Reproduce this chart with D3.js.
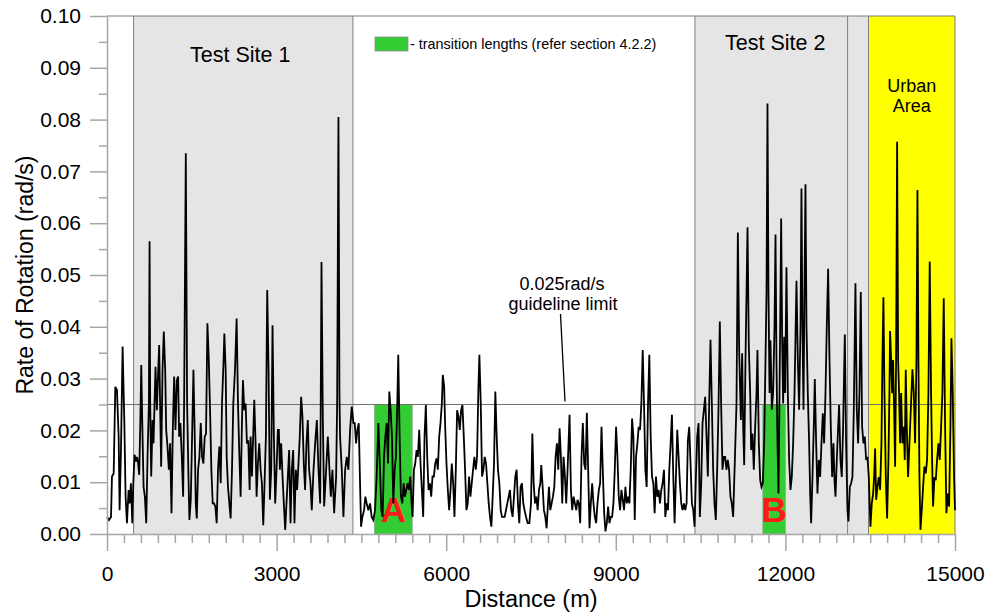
<!DOCTYPE html>
<html><head><meta charset="utf-8">
<script src="https://cdn.jsdelivr.net/npm/d3@7"></script>
<style>
body{margin:0;background:#fff}
svg{display:block}
text{font-family:"Liberation Sans",Arial,Helvetica,sans-serif}
</style>
</head><body>
<svg id="chart" width="989" height="614"></svg>
<script>
// ---------- data ----------
const xMajorTicks = [0, 3000, 6000, 9000, 12000, 15000];
const yMajorTicks = [0, 0.01, 0.02, 0.03, 0.04, 0.05, 0.06, 0.07, 0.08, 0.09, 0.10];
const guidelineLimit = 0.025;
const testSites = [
  {label: "Test Site 1", start: 470, end: 4350},
  {label: "Test Site 2", start: 10400, end: 13100}
];
const grayExtension = {start: 13100, end: 13470};
const urbanArea = {label: ["Urban", "Area"], start: 13470, end: 15000};
const transitions = [
  {label: "A", start: 4730, end: 5400},
  {label: "B", start: 11600, end: 12000}
];
// [distance (m), rate of rotation (rad/s)]
const rotationSeries = [
[0,.0033],[35,.0027],[71,.0033],[88,.0111],[118,.0117],[147,.0284],[176,.0278],[206,.0188],[223,.0046],[247,.0162],
[276,.0362],[306,.022],[329,.0072],[353,.0021],[382,.0085],[400,.0059],[423,.0098],[447,.0021],[465,.0098],[488,.0153],
[512,.014],[529,.0149],[547,.014],[570,.0114],[588,.0207],[606,.0326],[623,.022],[647,.0091],[670,.0072],[694,.0021],
[717,.0149],[741,.0252],[753,.0565],[764,.0252],[782,.0111],[806,.022],[823,.0175],[841,.0252],[858,.0323],[882,.0239],
[906,.0317],[923,.0365],[941,.0239],[958,.013],[982,.0317],[1005,.0391],[1029,.0317],[1047,.0201],[1070,.0169],[1094,.0124],
[1117,.0175],[1141,.004],[1164,.0201],[1188,.0304],[1211,.0201],[1235,.0297],[1258,.0304],[1276,.0188],[1299,.0214],[1323,.0149],
[1347,.0072],[1364,.0252],[1394,.0735],[1417,.0252],[1441,.0111],[1458,.0027],[1482,.0066],[1505,.0188],[1529,.0317],[1552,.0188],
[1570,.0059],[1588,.003],[1611,.0124],[1635,.0149],[1658,.0214],[1682,.0149],[1705,.0136],[1729,.0188],[1752,.0194],[1776,.0407],
[1799,.0342],[1823,.0239],[1846,.0124],[1870,.0059],[1893,.0059],[1917,.0053],[1940,.0021],[1964,.0124],[1987,.0169],[2011,.0098],
[2034,.0252],[2058,.0323],[2076,.0387],[2099,.0317],[2117,.0149],[2140,.0091],[2164,.0059],[2187,.003],[2211,.0124],[2234,.0252],
[2264,.0317],[2293,.0416],[2317,.0252],[2340,.0156],[2364,.0072],[2387,.0214],[2405,.0297],[2428,.0239],[2452,.0252],[2475,.0175],
[2499,.0181],[2523,.0085],[2540,.0188],[2564,.0111],[2587,.0194],[2605,.0259],[2628,.0175],[2646,.0072],[2670,.0136],[2693,.0175],
[2717,.0124],[2740,.0098],[2764,.0017],[2787,.0098],[2811,.0188],[2834,.0471],[2858,.0317],[2881,.0066],[2905,.0124],[2928,.0403],
[2952,.0188],[2975,.0059],[2999,.0124],[3022,.0201],[3040,.0201],[3058,.0124],[3081,.0175],[3105,.0111],[3128,.0059],[3152,.0008],
[3175,.0059],[3199,.0111],[3222,.0162],[3246,.0021],[3269,.0124],[3293,.0162],[3316,.0021],[3340,.0124],[3363,.0085],[3387,.0136],
[3410,.0188],[3434,.0265],[3457,.0227],[3481,.0136],[3504,.0085],[3528,.0175],[3552,.022],[3575,.0124],[3599,.0098],[3622,.0046],
[3653,.0124],[3682,.0175],[3712,.022],[3741,.0124],[3771,.0059],[3794,.0525],[3818,.022],[3841,.0053],[3876,.0124],[3906,.0188],
[3935,.0124],[3959,.0072],[3988,.0124],[4018,.004],[4053,.0111],[4071,.0252],[4094,.0805],[4112,.0265],[4123,.0188],[4153,.0124],
[4182,.0033],[4212,.0124],[4241,.0149],[4270,.0124],[4300,.0201],[4329,.0246],[4359,.0214],[4382,.0214],[4406,.0175],[4429,.0201],
[4453,.0214],[4476,.0098],[4494,.0014],[4517,.0033],[4547,.0046],[4570,.0072],[4594,.0059],[4623,.0046],[4653,.0059],[4682,.0033],
[4711,.0027],[4741,.0046],[4770,.0111],[4800,.0214],[4829,.0124],[4853,.0046],[4876,.0033],[4900,.0149],[4923,.0188],[4947,.0214],
[4970,.0136],[4994,.0275],[5017,.0239],[5041,.0188],[5064,.0059],[5088,.0124],[5111,.0149],[5135,.0252],[5152,.0346],[5176,.0188],
[5199,.0072],[5223,.0059],[5247,.0098],[5270,.0072],[5294,.0085],[5317,.0098],[5341,.0085],[5364,.0111],[5388,.0059],[5405,.0033],
[5429,.0124],[5452,.0136],[5476,.0162],[5499,.0149],[5523,.0201],[5546,.0136],[5570,.0085],[5593,.0033],[5617,.0188],[5640,.0249],
[5664,.0149],[5688,.0085],[5711,.0098],[5735,.0072],[5758,.0111],[5782,.0111],[5805,.0136],[5829,.0146],[5852,.0124],[5876,.0188],
[5899,.0214],[5923,.0252],[5940,.0307],[5964,.0284],[5982,.0207],[6005,.0136],[6029,.0085],[6052,.0046],[6076,.0085],[6099,.0136],
[6123,.0098],[6146,.0033],[6170,.0124],[6193,.0239],[6217,.0227],[6240,.0201],[6264,.0239],[6287,.0249],[6311,.0188],[6334,.0124],
[6358,.0046],[6381,.0059],[6405,.0111],[6428,.0072],[6452,.0098],[6475,.0124],[6499,.0149],[6523,.0124],[6546,.0149],[6570,.0284],
[6587,.0346],[6611,.0252],[6634,.0111],[6658,.0124],[6681,.0149],[6705,.0136],[6728,.0098],[6752,.0059],[6775,.0033],[6799,.0014],
[6822,.0072],[6846,.0136],[6869,.0275],[6893,.0188],[6916,.0124],[6940,.0098],[6964,.0046],[6987,.0033],[7034,.0033],[7081,.0059],
[7105,.0072],[7128,.0085],[7152,.0046],[7175,.0033],[7199,.0072],[7222,.0111],[7246,.0124],[7269,.0059],[7293,.0021],[7316,.0091],
[7340,.0098],[7363,.0059],[7388,.0045],[7412,.0033],[7441,.0021],[7471,.0021],[7500,.0059],[7524,.0194],[7547,.0098],[7571,.0059],
[7594,.0072],[7618,.0046],[7641,.0085],[7665,.0098],[7682,.0133],[7706,.0091],[7729,.0046],[7753,.0033],[7776,.0011],[7800,.0059],
[7818,.0091],[7841,.0046],[7865,.0059],[7888,.0072],[7912,.0091],[7935,.0149],[7959,.0175],[7982,.0124],[8006,.0204],[8029,.0149],
[8053,.0059],[8076,.0149],[8100,.0111],[8123,.0059],[8147,.0124],[8164,.0175],[8182,.023],[8206,.0085],[8229,.0046],[8253,.0072],
[8276,.0059],[8300,.0046],[8323,.0066],[8347,.0059],[8370,.0021],[8394,.0149],[8417,.0214],[8441,.0136],[8464,.0124],[8488,.0234],
[8511,.0124],[8535,.0011],[8558,.0059],[8582,.0098],[8605,.0059],[8629,.0033],[8652,.0021],[8676,.0059],[8700,.0085],[8723,.0098],
[8747,.0207],[8770,.0124],[8794,.004],[8817,.0005],[8841,.0021],[8864,.0053],[8888,.0021],[8911,.0033],[8935,.0033],[8958,.0059],
[8982,.0124],[9005,.0207],[9029,.0149],[9052,.0072],[9076,.0046],[9099,.0085],[9123,.0066],[9146,.0046],[9170,.0091],[9193,.0059],
[9217,.0072],[9240,.0059],[9264,.0124],[9288,.0223],[9311,.0188],[9335,.0027],[9358,.0149],[9382,.0175],[9405,.0207],[9429,.0201],
[9452,.0252],[9476,.0355],[9499,.0252],[9523,.0124],[9546,.0091],[9570,.0252],[9593,.0346],[9617,.0188],[9640,.0111],[9664,.0098],
[9687,.004],[9711,.0111],[9734,.0072],[9758,.0085],[9781,.0059],[9805,.0085],[9828,.0098],[9852,.0124],[9876,.0033],[9899,.0059],
[9923,.0046],[9946,.0124],[9970,.0175],[9993,.023],[10017,.0111],[10040,.0021],[10064,.0111],[10087,.0201],[10111,.0149],[10134,.0098],
[10158,.0059],[10181,.0046],[10205,.0059],[10228,.0046],[10252,.0059],[10275,.0181],[10299,.0207],[10322,.0136],[10346,.0059],[10370,.0046],
[10393,.0014],[10417,.0111],[10440,.0188],[10464,.0214],[10487,.0033],[10511,.0098],[10534,.0214],[10558,.0239],[10581,.0265],[10605,.0188],
[10628,.0111],[10652,.0252],[10675,.0375],[10699,.0252],[10722,.0124],[10746,.0059],[10769,.0027],[10793,.0124],[10816,.0239],[10840,.041],
[10863,.0252],[10887,.0124],[10910,.0149],[10934,.0149],[10957,.0124],[10981,.0143],[11004,.0124],[11028,.0072],[11052,.0059],[11076,.0033],
[11106,.0143],[11135,.0252],[11159,.0582],[11182,.0355],[11212,.022],[11235,.0349],[11253,.0207],[11271,.0133],[11294,.0336],[11330,.0592],
[11353,.0362],[11377,.0272],[11394,.0162],[11418,.0194],[11441,.0124],[11465,.0207],[11489,.0272],[11506,.0355],[11530,.0175],[11554,.0104],
[11577,.0091],[11601,.0098],[11624,.0175],[11648,.0336],[11666,.0465],[11683,.0831],[11701,.0465],[11719,.0272],[11736,.0374],[11760,.024],
[11783,.0272],[11807,.04],[11825,.0578],[11842,.0336],[11860,.0175],[11878,.0078],[11896,.0272],[11913,.0465],[11925,.0609],[11943,.0368],
[11960,.0252],[11978,.0381],[11996,.0272],[12019,.0515],[12043,.0272],[12066,.0143],[12090,.0085],[12113,.011],[12137,.0175],[12161,.0272],
[12196,.0489],[12220,.0336],[12243,.024],[12267,.04],[12284,.0667],[12302,.04],[12320,.024],[12337,.0465],[12355,.0675],[12373,.04],
[12396,.0272],[12420,.0175],[12438,.0078],[12455,.0021],[12479,.011],[12502,.0207],[12520,.0299],[12544,.0175],[12567,.0078],[12591,.0143],
[12614,.011],[12638,.0175],[12662,.0233],[12685,.0175],[12709,.0272],[12732,.04],[12756,.0512],[12780,.0336],[12803,.0207],[12827,.011],
[12850,.0175],[12868,.0104],[12886,.0072],[12909,.0143],[12933,.0207],[12950,.0249],[12974,.0143],[12997,.011],[13021,.0207],[13051,.0385],
[13074,.0175],[13098,.0046],[13116,.0024],[13139,.0091],[13163,.0098],[13186,.011],[13210,.024],[13239,.0484],[13263,.024],[13286,.0175],
[13310,.0272],[13333,.0467],[13357,.0207],[13381,.0175],[13404,.0188],[13428,.0143],[13451,.0149],[13475,.011],[13504,.0014],[13528,.0059],
[13552,.0078],[13569,.011],[13587,.0165],[13605,.0066],[13628,.0091],[13652,.011],[13675,.0085],[13699,.0175],[13716,.0336],[13734,.0457],
[13752,.0272],[13776,.011],[13799,.003],[13823,.0143],[13840,.0272],[13852,.0392],[13870,.0336],[13888,.0272],[13905,.0336],[13923,.024],
[13941,.013],[13958,.0336],[13976,.0757],[13994,.0336],[14011,.0272],[14029,.0175],[14047,.0272],[14070,.0175],[14094,.0207],[14111,.0143],
[14129,.0317],[14147,.0207],[14170,.011],[14194,.0175],[14218,.024],[14247,.0318],[14271,.0272],[14294,.0175],[14318,.0336],[14336,.0664],
[14353,.0336],[14371,.011],[14389,.0008],[14412,.0046],[14436,.0091],[14459,.013],[14483,.0117],[14506,.0143],[14530,.0272],[14553,.0526],
[14577,.0272],[14595,.0143],[14612,.0053],[14636,.011],[14660,.0104],[14683,.0143],[14707,.0175],[14730,.0143],[14754,.0207],[14777,.0272],
[14801,.0455],[14825,.0207],[14848,.004],[14872,.0078],[14896,.0053],[14919,.0207],[14937,.0378],[14960,.0272],[14984,.011],[15000,.0046]
];

// ---------- layout ----------
const svg = d3.select("#chart");
const x = d3.scaleLinear().domain([0, 15000]).range([107, 955]);
const y = d3.scaleLinear().domain([0, 0.10]).range([534, 16]);
const frameColor = "#a6a6a6";
const edgeColor = "#7f7f7f";

const gBack = svg.append("g");

// gray site regions
testSites.forEach(s => {
  gBack.append("rect")
    .attr("x", x(s.start)).attr("y", y(0.1))
    .attr("width", x(s.end) - x(s.start)).attr("height", y(0) - y(0.1))
    .attr("fill", "#e5e5e5");
});
gBack.append("rect")
  .attr("x", x(grayExtension.start)).attr("y", y(0.1))
  .attr("width", x(grayExtension.end) - x(grayExtension.start)).attr("height", y(0) - y(0.1))
  .attr("fill", "#e5e5e5");
// urban area
gBack.append("rect")
  .attr("x", x(urbanArea.start)).attr("y", y(0.1))
  .attr("width", x(urbanArea.end) - x(urbanArea.start)).attr("height", y(0) - y(0.1))
  .attr("fill", "#ffff00");

// region edges
const edges = [testSites[0].start, testSites[0].end, testSites[1].start, testSites[1].end, urbanArea.start, urbanArea.end];
gBack.selectAll("line.edge").data(edges).enter().append("line")
  .attr("x1", d => x(d)).attr("x2", d => x(d))
  .attr("y1", y(0.1)).attr("y2", y(0))
  .attr("stroke", edgeColor).attr("stroke-width", 1);

// transition boxes
transitions.forEach(t => {
  gBack.append("rect")
    .attr("x", x(t.start)).attr("y", y(guidelineLimit))
    .attr("width", x(t.end) - x(t.start)).attr("height", y(0) - y(guidelineLimit))
    .attr("fill", "#33cc33").attr("stroke", "#8fb08f").attr("stroke-width", 0.8);
});

// guideline
gBack.append("line")
  .attr("x1", x(0)).attr("x2", x(15000))
  .attr("y1", y(guidelineLimit)).attr("y2", y(guidelineLimit))
  .attr("stroke", "#707070").attr("stroke-width", 1);

// transition labels (under the trace)
transitions.forEach(t => {
  gBack.append("text")
    .attr("x", x((t.start + t.end) / 2)).attr("y", y(0) - 12)
    .attr("text-anchor", "middle").attr("font-size", 35).attr("font-weight", "bold")
    .attr("fill", "#ff1a1a").text(t.label);
});

// trace
const line = d3.line().x(d => x(d[0])).y(d => y(d[1]));
svg.append("path").datum(rotationSeries)
  .attr("d", line).attr("fill", "none")
  .attr("stroke", "#000").attr("stroke-width", 1.8).attr("stroke-linejoin", "miter");

// frame: top
svg.append("line").attr("x1", x(0)).attr("x2", x(15000)).attr("y1", y(0.1)).attr("y2", y(0.1))
  .attr("stroke", edgeColor).attr("stroke-width", 1);

// ---------- axes ----------
const yMinor = d3.range(0, 0.1001, 0.005).filter(v => Math.abs(v * 100 - Math.round(v * 100)) > 1e-6);
const xMinor = d3.range(0, 15001, 300).filter(v => v % 3000 !== 0);

svg.append("g").attr("transform", `translate(${x(0)},0)`)
  .call(d3.axisLeft(y).tickValues(yMajorTicks).tickSize(17).tickSizeOuter(0).tickPadding(9)
    .tickFormat(d3.format(".2f")));
svg.append("g").attr("transform", `translate(${x(0)},0)`)
  .call(d3.axisLeft(y).tickValues(yMinor).tickSize(8).tickSizeOuter(0).tickFormat(""))
  .select(".domain").remove();

svg.append("g").attr("transform", `translate(0,${y(0)})`)
  .call(d3.axisBottom(x).tickValues(xMajorTicks).tickSize(17).tickSizeOuter(0).tickPadding(15)
    .tickFormat(d3.format("d")));
svg.append("g").attr("transform", `translate(0,${y(0)})`)
  .call(d3.axisBottom(x).tickValues(xMinor).tickSize(9).tickSizeOuter(0).tickFormat(""))
  .select(".domain").remove();

svg.selectAll(".domain").attr("stroke", frameColor).attr("stroke-width", 1.5);
svg.selectAll(".tick line").attr("stroke", frameColor).attr("stroke-width", 1.5);
svg.selectAll(".tick text").attr("font-size", 21).attr("fill", "#000")
  .attr("font-family", "'Liberation Sans', Arial, sans-serif");

// axis titles
svg.append("text").attr("x", 531).attr("y", 607).attr("text-anchor", "middle")
  .attr("font-size", 23.5).text("Distance (m)");
svg.append("text").attr("transform", "translate(33,275) rotate(-90)").attr("text-anchor", "middle")
  .attr("font-size", 23).text("Rate of Rotation (rad/s)");

// region labels
svg.append("text").attr("x", x((testSites[0].start + testSites[0].end) / 2) - 3).attr("y", 62)
  .attr("text-anchor", "middle").attr("font-size", 21.5).text(testSites[0].label);
svg.append("text").attr("x", x((testSites[1].start + testSites[1].end) / 2) + 4).attr("y", 50)
  .attr("text-anchor", "middle").attr("font-size", 21.5).text(testSites[1].label);
urbanArea.label.forEach((t, i) => {
  svg.append("text").attr("x", x((urbanArea.start + urbanArea.end) / 2)).attr("y", 92 + i * 20)
    .attr("text-anchor", "middle").attr("font-size", 18).text(t);
});

// legend
svg.append("rect").attr("x", 375).attr("y", 37).attr("width", 33).attr("height", 14)
  .attr("fill", "#33cc33").attr("stroke", "#8f8f8f").attr("stroke-width", 0.8);
svg.append("text").attr("x", 410).attr("y", 49).attr("font-size", 14.4)
  .text("- transition lengths (refer section 4.2.2)");

// guideline annotation
svg.append("text").attr("x", 562).attr("y", 290).attr("text-anchor", "middle")
  .attr("font-size", 18).text("0.025rad/s");
svg.append("text").attr("x", 563).attr("y", 310).attr("text-anchor", "middle")
  .attr("font-size", 18).text("guideline limit");
svg.append("line").attr("x1", 560.5).attr("y1", 314).attr("x2", 565).attr("y2", y(guidelineLimit) - 3)
  .attr("stroke", "#000").attr("stroke-width", 1.3);
</script>
</body></html>
